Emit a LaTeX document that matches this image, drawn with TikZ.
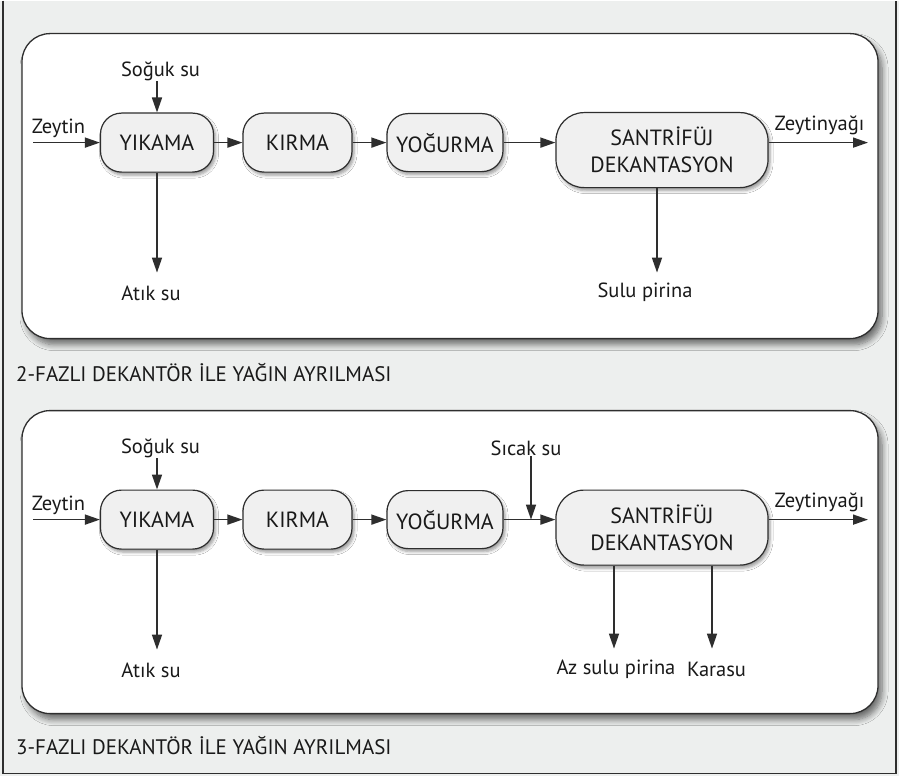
\documentclass[tikz,border=0pt]{standalone}
\usepackage{fontspec}
\setmainfont{PT Sans}
\usetikzlibrary{arrows.meta,shadows.blur,calc}

\definecolor{pagebg}{HTML}{EDEFEE}
\definecolor{ink}{HTML}{2E2E2E}
\definecolor{boxfill}{HTML}{F0F0F0}

\tikzset{
  panel/.style={draw=ink, line width=1.3pt, fill=white, rounded corners=28pt,
    blur shadow={shadow xshift=4pt, shadow yshift=-6pt, shadow blur steps=8,
      shadow blur radius=6pt, shadow opacity=55}},
  proc/.style={draw=ink, line width=1.2pt, fill=boxfill, rounded corners=21pt,
    align=center, font=\fontsize{22}{27}\selectfont, text=black!90,
    blur shadow={shadow xshift=2pt, shadow yshift=-3pt, shadow blur steps=5,
      shadow blur radius=3pt, shadow opacity=40}},
  lbl/.style={font=\fontsize{20.5}{25}\selectfont, text=black!90, inner sep=0pt},
  captext/.style={font=\fontsize{21}{25}\selectfont, text=black!90, inner sep=0pt, anchor=west},
  flow/.style={draw=ink, line width=1.6pt, -{Triangle[length=15pt,width=10pt]}},
}

\begin{document}
\begin{tikzpicture}[x=1pt,y=-1pt]
  % page background and frame
  \fill[pagebg] (0,0) rectangle (899,775);
  \draw[ink, line width=1.2pt] (3,0) -- (3,773) -- (896,773) -- (896,0);
  \useasboundingbox (0,0) rectangle (899,775);

  % ---------- two-phase decanter ----------
  \path[panel] (22,33) rectangle (878,338);

  \node[proc, minimum width=113pt, minimum height=59pt] (ya) at (157,142) {YIKAMA};
  \node[proc, minimum width=109pt, minimum height=59pt] (ka) at (297.5,142) {KIRMA};
  \node[proc, minimum width=116pt, minimum height=58pt] (oa) at (445,142) {YOĞURMA};
  \node[proc, minimum width=212pt, minimum height=75pt, rounded corners=28pt] (sa) at (662,149.5) {SANTRİFÜJ\\DEKANTASYON};

  \node[lbl] (zeytinA) at (58.5,128) {Zeytin};
  \coordinate (zinA) at (33,142);
  \node[lbl] (sogukA) at (160.5,71) {Soğuk su};
  \node[lbl] (atikA) at (151,293) {Atık su};
  \coordinate (atikendA) at (157,272);
  \node[lbl] (suluA) at (645,292) {Sulu pirina};
  \coordinate (suluendA) at (657,272);
  \node[lbl] (yagA) at (819.5,125) {Zeytinyağı};
  \coordinate (yagendA) at (868,142);

  \draw[flow] (zinA) -- (ya.west);
  \draw[flow] (sogukA.south -| ya.north) -- (ya.north);
  \draw[flow] (ya) -- (ka);
  \draw[flow] (ka) -- (oa);
  \draw[flow] (oa.east) -- (oa.east -| sa.west);
  \draw[flow] (ya.south) -- (atikendA);
  \draw[flow] (suluendA |- sa.south) -- (suluendA);
  \draw[flow] (sa.east |- yagendA) -- (yagendA);

  \node[captext] (capA) at (16,372) {2-FAZLI DEKANTÖR İLE YAĞIN AYRILMASI};

  % ---------- three-phase decanter ----------
  \path[panel] (22,410) rectangle (878,713);

  \node[proc, minimum width=113pt, minimum height=59pt] (yb) at (157,519) {YIKAMA};
  \node[proc, minimum width=109pt, minimum height=59pt] (kb) at (297.5,519) {KIRMA};
  \node[proc, minimum width=116pt, minimum height=58pt] (ob) at (445,519) {YOĞURMA};
  \node[proc, minimum width=212pt, minimum height=75pt, rounded corners=28pt] (sb) at (662,527) {SANTRİFÜJ\\DEKANTASYON};

  \node[lbl] (zeytinB) at (58.5,505) {Zeytin};
  \coordinate (zinB) at (33,519);
  \node[lbl] (sogukB) at (160.5,448) {Soğuk su};
  \node[lbl] (sicakB) at (526,448) {Sıcak su};
  \coordinate (sicakendB) at (531,519);
  \node[lbl] (atikB) at (151,670) {Atık su};
  \coordinate (atikendB) at (157,649);
  \node[lbl] (azB) at (616,669) {Az sulu pirina};
  \coordinate (azendB) at (614,648);
  \node[lbl] (karaB) at (716.5,669) {Karasu};
  \coordinate (karaendB) at (712,648);
  \node[lbl] (yagB) at (819.5,502) {Zeytinyağı};
  \coordinate (yagendB) at (868,519);

  \draw[flow] (zinB) -- (yb.west);
  \draw[flow] (sogukB.south -| yb.north) -- (yb.north);
  \draw[flow] (yb) -- (kb);
  \draw[flow] (kb) -- (ob);
  \draw[flow] (ob.east) -- (ob.east -| sb.west);
  \draw[flow] (sicakB.south -| sicakendB) -- (sicakendB);
  \draw[flow] (yb.south) -- (atikendB);
  \draw[flow] (azendB |- sb.south) -- (azendB);
  \draw[flow] (karaendB |- sb.south) -- (karaendB);
  \draw[flow] (sb.east |- yagendB) -- (yagendB);

  \node[captext] (capB) at (16,745) {3-FAZLI DEKANTÖR İLE YAĞIN AYRILMASI};
\end{tikzpicture}
\end{document}
